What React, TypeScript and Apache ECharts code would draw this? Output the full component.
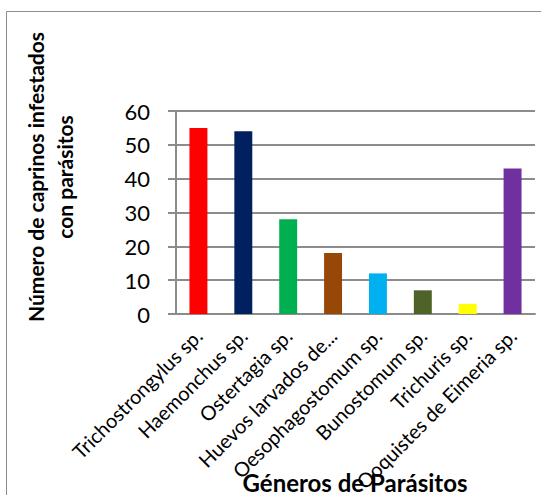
import React, { useEffect, useRef } from "react";
import * as echarts from "echarts";

const categories = [
  "Trichostrongylus sp.",
  "Haemonchus sp.",
  "Ostertagia sp.",
  "Huevos larvados de...",
  "Oesophagostomum sp.",
  "Bunostomum sp.",
  "Trichuris sp.",
  "Ooquistes de Eimeria sp.",
];
const values = [55, 54, 28, 18, 12, 7, 3, 43];
const colors = ["#FF0000", "#002060", "#00B050", "#974706", "#00B0F0", "#4F6228", "#FFFF00", "#7030A0"];
const yTitle = "Número de caprinos infestados\ncon parásitos";
const xTitle = "Géneros de Parásitos";

const FONT = "Lato, 'Open Sans', sans-serif";

export default function App() {
  const ref = useRef<HTMLDivElement>(null);
  useEffect(() => {
    if (!ref.current) return;
    const chart = echarts.init(ref.current, undefined, { renderer: "svg" });
    chart.setOption({
      animation: false,
      backgroundColor: "#ffffff",
      grid: { left: 176, top: 111, right: 6, bottom: 181, containLabel: false },
      xAxis: {
        type: "category",
        data: categories,
        boundaryGap: true,
        axisLine: { lineStyle: { color: "#8c8c8c", width: 2 } },
        axisTick: { length: 6, lineStyle: { color: "#8c8c8c", width: 2 } },
        axisLabel: {
          rotate: 45,
          interval: 0,
          fontSize: 20,
          fontFamily: FONT,
          color: "#000",
          margin: 18,
        },
      },
      yAxis: {
        type: "value",
        min: 0,
        max: 60,
        interval: 10,
        axisLine: { show: true, lineStyle: { color: "#8c8c8c", width: 2 } },
        axisTick: { show: true, length: 8, lineStyle: { color: "#8c8c8c", width: 2 } },
        splitLine: { lineStyle: { color: "#8c8c8c", width: 2 } },
        axisLabel: { fontSize: 22, fontFamily: FONT, color: "#000", margin: 26 },
      },
      graphic: [
        {
          type: "rect",
          shape: { x: 6.5, y: 11.5, width: 560, height: 500 },
          style: { fill: "none", stroke: "#8c8c8c", lineWidth: 1 },
          z: -1,
        },
        {
          type: "text",
          x: 50,
          y: 177,
          rotation: Math.PI / 2,
          style: {
            text: yTitle,
            align: "center",
            verticalAlign: "middle",
            font: `bold 21px ${FONT}`,
            lineHeight: 29,
            fill: "#000",
          },
        },
        {
          type: "text",
          x: 355,
          y: 482,
          style: {
            text: xTitle,
            align: "center",
            verticalAlign: "middle",
            font: `bold 24px ${FONT}`,
            fill: "#000",
          },
        },
      ],
      series: [
        {
          type: "bar",
          data: values.map((v, i) => ({ value: v, itemStyle: { color: colors[i] } })),
          barWidth: "40%",
        },
      ],
    });
    return () => chart.dispose();
  }, []);
  return (
    <div
      ref={ref}
      style={{ position: "fixed", left: 0, top: 0, width: 541, height: 495 }}
    />
  );
}
